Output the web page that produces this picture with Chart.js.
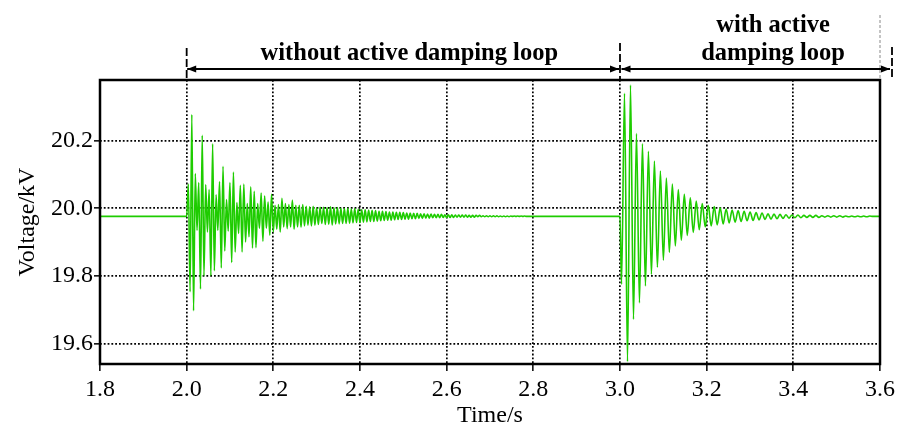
<!DOCTYPE html>
<html>
<head>
<meta charset="utf-8">
<script src="https://cdn.jsdelivr.net/npm/chart.js@4.4.0/dist/chart.umd.min.js"></script>
<style>
  html, body { margin: 0; padding: 0; background: #fff; }
  #wrap { width: 910px; height: 432px; }
</style>
</head>
<body>
<div id="wrap"><canvas id="chart" width="910" height="432"></canvas></div>
<script>
// axis ticks and ranges
const xTicks = [1.8, 2.0, 2.2, 2.4, 2.6, 2.8, 3.0, 3.2, 3.4, 3.6];
const yTicks = [19.6, 19.8, 20.0, 20.2];
const xRange = [1.8, 3.6];
const yRange = [19.541, 20.378];

// steady voltage before / after the disturbances (kV)
const baseLevel = 19.976;

// first disturbance, no active damping: peaks and troughs
const burst1Start = 2.0039;
const burst1Step = 0.004;
const burst1Values = [
  20.071, 19.754, 20.276, 19.698, 20.102, 19.935, 20.076, 19.762, 20.215, 19.801,
  20.070, 19.930, 20.055, 19.801, 20.190, 19.816, 20.040, 19.935, 20.079, 19.824,
  20.124, 19.874, 20.026, 19.933, 20.076, 19.840, 20.107, 19.871, 20.017, 19.926,
  20.068, 19.871, 20.071, 19.901, 20.014, 19.916, 20.063, 19.883, 20.050, 19.884,
  20.014, 19.941, 20.045, 19.903, 20.036, 19.941, 20.018, 19.921, 20.041, 19.930,
  20.009, 19.938, 20.011, 19.930, 20.029, 19.945, 20.014, 19.940, 20.011, 19.945,
  20.024, 19.938, 20.009, 19.945, 20.009, 19.944, 20.011, 19.948, 20.006, 19.950,
  20.004, 19.948, 20.006, 19.950, 20.001, 19.952, 20.003, 19.955, 20.003, 19.952,
  20.002, 19.953, 20.004, 19.951, 20.001, 19.954, 20.002, 19.954, 20.000, 19.955,
  19.999, 19.955, 20.000, 19.956, 19.998, 19.957, 19.999, 19.958, 19.997, 19.958,
  19.996, 19.959, 19.996, 19.960, 19.995, 19.961, 19.994, 19.961, 19.993, 19.962,
  19.991, 19.963, 19.991, 19.964, 19.990, 19.965, 19.989, 19.965, 19.989, 19.966,
  19.988, 19.967, 19.988, 19.967, 19.987, 19.968, 19.986, 19.968, 19.986, 19.969,
  19.985, 19.969, 19.985, 19.970, 19.984, 19.970, 19.984, 19.971, 19.983, 19.971,
  19.983, 19.972, 19.982, 19.972, 19.982, 19.972, 19.982, 19.973, 19.981, 19.973,
  19.981, 19.973, 19.981, 19.973, 19.980, 19.974, 19.980, 19.974, 19.980, 19.974,
  19.980, 19.974, 19.979, 19.974, 19.979, 19.974, 19.979, 19.975, 19.979, 19.975,
  19.978, 19.975, 19.978, 19.975, 19.978, 19.975, 19.978, 19.975, 19.978, 19.975,
  19.977, 19.975, 19.977, 19.975, 19.977, 19.975, 19.977, 19.976, 19.977, 19.976,
  19.977, 19.976, 19.977, 19.976, 19.977, 19.976, 19.976, 19.976, 19.976, 19.976
];

// second disturbance, with active damping loop
const burst2Start = 3.0035;
const burst2Step = 0.0069;
const burst2Values = [
  19.776, 20.339, 19.548, 20.363, 19.673, 20.220, 19.721, 20.190, 19.771, 20.168,
  19.805, 20.139, 19.826, 20.110, 19.847, 20.089, 19.870, 20.071, 19.889, 20.055,
  19.906, 20.041, 19.920, 20.031, 19.929, 20.021, 19.937, 20.014, 19.945, 20.009,
  19.948, 20.005, 19.951, 20.001, 19.954, 19.998, 19.957, 19.995, 19.959, 19.993,
  19.961, 19.991, 19.963, 19.989, 19.964, 19.987, 19.966, 19.986, 19.967, 19.984,
  19.968, 19.983, 19.969, 19.982, 19.970, 19.981, 19.971, 19.980, 19.972, 19.980,
  19.972, 19.979, 19.973, 19.979, 19.973, 19.979, 19.973, 19.978, 19.974, 19.978,
  19.974, 19.978, 19.974, 19.978, 19.974, 19.977, 19.975, 19.977, 19.975, 19.977,
  19.975, 19.977, 19.975, 19.977, 19.976
];

// annotated regions above the plot
const regionEdges = [2.0, 3.0, 3.6];
const regionLabels = [['without active damping loop'], ['with active', 'damping loop']];

const serif = "'Liberation Serif', 'Times New Roman', serif";

const points = [{ x: xRange[0], y: baseLevel }, { x: regionEdges[0], y: baseLevel }];
burst1Values.forEach((v, i) => points.push({ x: burst1Start + i * burst1Step, y: v }));
points.push({ x: regionEdges[1], y: baseLevel });
burst2Values.forEach((v, i) => points.push({ x: burst2Start + i * burst2Step, y: v }));
points.push({ x: xRange[1], y: baseLevel });

function arrow(ctx, x1, x2, y) {
    ctx.beginPath();
    ctx.moveTo(x1, y);
    ctx.lineTo(x2, y);
    ctx.stroke();
    [[x1, 1], [x2, -1]].forEach(([x, d]) => {
        ctx.beginPath();
        ctx.moveTo(x, y);
        ctx.lineTo(x + d * 9, y - 3.5);
        ctx.lineTo(x + d * 9, y + 3.5);
        ctx.closePath();
        ctx.fill();
    });
}

function dashLine(ctx, x, y1, y2) {
    ctx.beginPath();
    ctx.moveTo(x, y1);
    ctx.lineTo(x, y2);
    ctx.stroke();
}

const frameAndNotes = {
    id: 'frameAndNotes',
    afterDatasetsDraw(chart) {
        const { ctx, chartArea: a } = chart;
        ctx.save();
        ctx.strokeStyle = '#000';
        ctx.lineWidth = 2.5;
        ctx.strokeRect(a.left, a.top, a.right - a.left, a.bottom - a.top);
        ctx.restore();
    },
    afterDraw(chart) {
        const { ctx, chartArea: a } = chart;
        const xs = regionEdges.map(v => chart.scales.x.getPixelForValue(v));
        const arrowY = 69;
        ctx.save();
        ctx.strokeStyle = '#000';
        ctx.fillStyle = '#000';

        // dashed region markers
        ctx.lineWidth = 1.8;
        ctx.setLineDash([8, 3]);
        dashLine(ctx, xs[0], 48, a.top);
        dashLine(ctx, xs[1], 43, a.top);
        dashLine(ctx, xs[2] + 12, 47, 77);
        ctx.strokeStyle = '#888';
        ctx.lineWidth = 1;
        ctx.setLineDash([3, 2]);
        dashLine(ctx, xs[2], 15, a.top);
        ctx.setLineDash([]);

        // arrows
        ctx.strokeStyle = '#000';
        ctx.lineWidth = 2;
        arrow(ctx, xs[0] + 0.5, xs[1] - 1, arrowY);
        arrow(ctx, xs[1] + 1.5, xs[2] + 10, arrowY);

        // labels
        ctx.font = 'bold 24.5px ' + serif;
        ctx.textAlign = 'center';
        ctx.textBaseline = 'alphabetic';
        ctx.fillText(regionLabels[0][0], (xs[0] + xs[1]) / 2 + 6, 60);
        const cx = (xs[1] + xs[2]) / 2 + 23;
        ctx.fillText(regionLabels[1][0], cx, 32);
        ctx.fillText(regionLabels[1][1], cx, 60);
        ctx.restore();
    }
};

const ctx = document.getElementById('chart').getContext('2d');
new Chart(ctx, {
    type: 'line',
    data: {
        datasets: [{
            label: 'Voltage',
            data: points,
            borderColor: 'rgb(30, 204, 0)',
            borderWidth: 1.6,
            pointRadius: 0,
            cubicInterpolationMode: 'monotone',
            fill: false
        }]
    },
    options: {
        responsive: false,
        animation: false,
        devicePixelRatio: 1,
        layout: { padding: { top: 80, right: 30, left: 0, bottom: 0 } },
        plugins: { legend: { display: false }, tooltip: { enabled: false } },
        scales: {
            x: {
                type: 'linear',
                min: xRange[0],
                max: xRange[1],
                afterBuildTicks: s => { s.ticks = xTicks.map(v => ({ value: v })); },
                afterFit: s => { s.height = 68; },
                ticks: {
                    callback: v => Number(v).toFixed(1),
                    font: { family: serif, size: 24 },
                    color: '#000',
                    padding: 4,
                    maxRotation: 0,
                    autoSkip: false
                },
                grid: { color: '#000', lineWidth: 1.7, tickLength: 7, tickColor: '#000', tickWidth: 1.5 },
                border: { display: false, dash: [1.8, 2.0] },
                title: {
                    display: true,
                    text: 'Time/s',
                    font: { family: serif, size: 24 },
                    color: '#000',
                    padding: { top: 0, bottom: 2 }
                }
            },
            y: {
                type: 'linear',
                min: yRange[0],
                max: yRange[1],
                afterBuildTicks: s => { s.ticks = yTicks.map(v => ({ value: v })); },
                afterFit: s => { s.width = 100; },
                ticks: {
                    callback: v => Number(v).toFixed(1),
                    font: { family: serif, size: 24 },
                    color: '#000',
                    padding: 1
                },
                grid: { color: '#000', lineWidth: 1.7, tickLength: 6, tickColor: '#000', tickWidth: 1.5 },
                border: { display: false, dash: [1.8, 2.0] },
                title: {
                    display: true,
                    text: 'Voltage/kV',
                    font: { family: serif, size: 24 },
                    color: '#000',
                    padding: { top: 13, bottom: 0 }
                }
            }
        }
    },
    plugins: [frameAndNotes]
});
</script>
</body>
</html>
